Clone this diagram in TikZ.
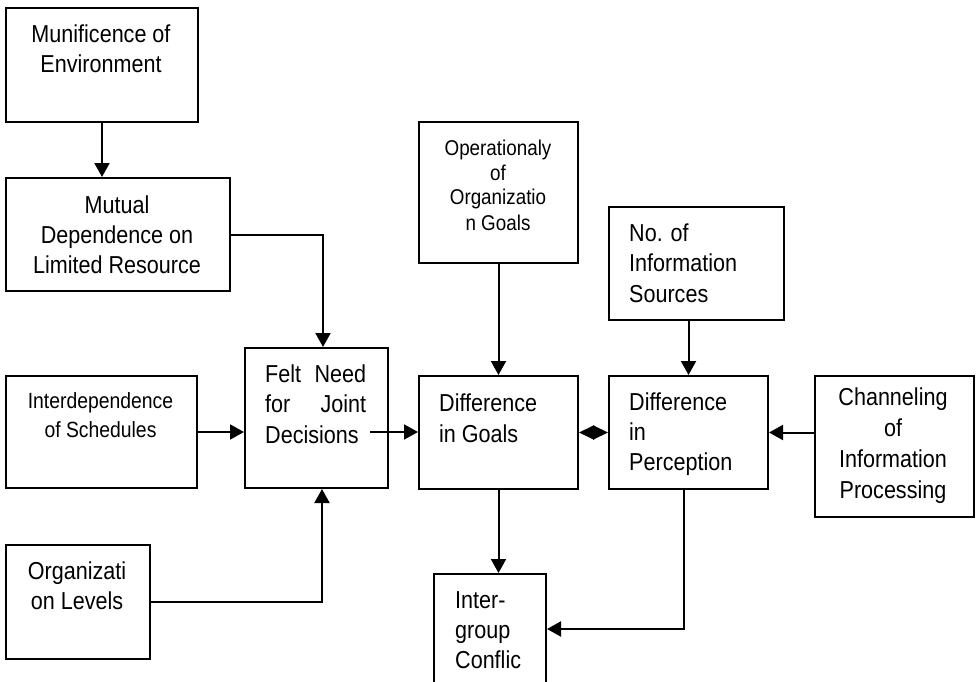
\documentclass[tikz,border=0pt]{standalone}
\usepackage{fontspec}
\setmainfont{Liberation Sans}[FakeStretch=0.88]
\usetikzlibrary{arrows.meta,calc}
\newcommand\mlc[1]{\vtop{\halign{\hfil##\hfil\cr#1\crcr}}}
\newcommand\mll[1]{\vtop{\halign{##\hfil\cr#1\crcr}}}
\tikzset{
  box/.style={draw, line width=2pt, rectangle, inner sep=0pt, anchor=north west},
  txt/.style={inner sep=0pt, font=\fontsize{24.5}{30}\selectfont},
  arr/.style={line width=2pt, -{Triangle[length=14pt,width=15pt]}},
  dia/.style={line width=2pt, {Triangle[length=15pt,width=14pt]}-{Triangle[length=15pt,width=14pt]}}
}
\begin{document}
\begin{tikzpicture}[x=1pt,y=-1pt]
\clip (0,0) rectangle (977,682);
\fill[white] (0,0) rectangle (977,682);
% boxes
\node[box, minimum width=192pt, minimum height=114pt] (mun) at (5,7) {};
\node[box, minimum width=224pt, minimum height=113pt] (mut) at (5,177) {};
\node[box, minimum width=191pt, minimum height=112pt] (inter) at (5,375) {};
\node[box, minimum width=143pt, minimum height=140pt] (felt) at (244,347) {};
\node[box, minimum width=144pt, minimum height=114pt] (org) at (5,544) {};
\node[box, minimum width=159pt, minimum height=141pt] (oper) at (418,121) {};
\node[box, minimum width=159pt, minimum height=113pt] (goals) at (418,375) {};
\node[box, minimum width=175pt, minimum height=113pt] (nois) at (608,206) {};
\node[box, minimum width=159pt, minimum height=113pt] (perc) at (608,375) {};
\node[box, minimum width=159pt, minimum height=141pt] (chan) at (814,375) {};
\node[box, minimum width=112pt, minimum height=110pt] (conf) at (433,573) {};
% texts
\node[txt, anchor=base] (tmun) at (101,43) {\mlc{Munificence of\cr Environment}};
\node[txt, anchor=base] (tmut) at (117,213) {\mlc{Mutual\cr Dependence on\cr Limited Resource}};
\node[txt, anchor=base, font=\fontsize{22}{29}\selectfont] (tinter) at (100.5,408) {\mlc{Interdependence\cr of Schedules}};
\node[txt, anchor=base west, font=\fontsize{24.5}{30.5}\selectfont] (tfelt) at (265,382) {\vtop{\hbox to 101pt{Felt\hfill Need}\hbox to 101pt{for\hfill Joint}\hbox{Decisions}}};
\node[txt, anchor=base] (torg) at (77,579) {\mlc{Organizati\cr on Levels}};
\node[txt, anchor=base, font=\fontsize{21.4}{25}\selectfont] (toper) at (498,155) {\mlc{Operationaly\cr of\cr Organizatio\cr n Goals}};
\node[txt, anchor=base west, font=\fontsize{24.5}{31}\selectfont] (tgoals) at (439,411) {\mll{Difference\cr in Goals}};
\node[txt, anchor=base west, font=\fontsize{24.5}{30.5}\selectfont] (tnois) at (629,241) {\mll{No. of\cr Information\cr Sources}};
\node[txt, anchor=base west] (tperc) at (629,410) {\mll{Difference\cr in\cr Perception}};
\node[txt, anchor=base, font=\fontsize{24.5}{31}\selectfont] (tchan) at (893,405) {\mlc{Channeling\cr of\cr Information\cr Processing}};
\node[txt, anchor=base west] (tconf) at (455,608) {\mll{Inter-\cr group\cr Conflic}};
% connectors
\draw[arr] (mun.south) -- (mun.south |- mut.north);
\draw[arr] (mut.east) -| ([xshift=6.5pt]felt.north);
\draw[arr] (inter.east) -- (inter.east -| felt.west);
\coordinate (fs) at (370,432);
\draw[arr] (fs) -- (fs -| goals.west);
\draw[arr] (org.east) -| ([xshift=5.5pt]felt.south);
\draw[arr] (oper.south) -- (goals.north);
\draw[arr] (perc.north |- nois.south) -- (perc.north);
\draw[dia] (goals.east) -- (perc.west);
\draw[arr] (perc.east -| chan.west) -- (perc.east);
\draw[arr] (goals.south) -- (goals.south |- conf.north);
\draw[arr] ([xshift=-4.5pt]perc.south) |- (conf.east);
\end{tikzpicture}
\end{document}
